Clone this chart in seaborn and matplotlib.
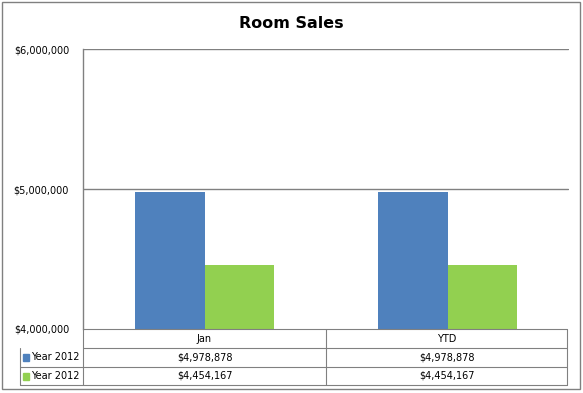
import matplotlib
matplotlib.use("Agg")
import matplotlib.pyplot as plt
import matplotlib.patches as mpatches
import pandas as pd
import seaborn as sns

# data
categories = ["Jan", "YTD"]
series_names = ["Year 2012", "Year 2012 "]
sales_2012_a = [4978878, 4978878]
sales_2012_b = [4454167, 4454167]
y_ticks = [4000000, 5000000, 6000000]
colors = ["#4F81BD", "#92D050"]

df = pd.DataFrame({
    "period": categories * 2,
    "series": [series_names[0]] * 2 + [series_names[1]] * 2,
    "sales": sales_2012_a + sales_2012_b,
})

sns.set_style("white")
plt.rcParams["font.family"] = ["DejaVu Sans"]
plt.rcParams["text.color"] = "black"
plt.rcParams["ytick.color"] = "black"

fig = plt.figure(figsize=(5.83, 3.93), dpi=100)
ax = fig.add_axes([83 / 583, 64 / 393, 486 / 583, 280 / 393])

sns.barplot(data=df, x="period", y="sales", hue="series", palette=colors,
            width=0.568, ax=ax, legend=False, saturation=1, linewidth=0)

ax.set_ylim(4000000, 6000000)
ax.set_xlim(-0.5, 1.5)
ax.set_yticks(y_ticks)
ax.set_yticklabels([f"${v:,.0f}" for v in y_ticks], fontsize=7, color="black")
ax.set_xticks([])
ax.set_xlabel("")
ax.set_ylabel("")
ax.tick_params(axis="y", length=0, pad=10)
for s in ["top", "right", "bottom"]:
    ax.spines[s].set_visible(False)
ax.spines["left"].set_color("#808080")
ax.spines["left"].set_linewidth(1)
for v in y_ticks[1:]:
    ax.axhline(v, xmin=0, xmax=485 / 486, color="#808080", lw=1, zorder=0)

fig.text(291 / 583, 1 - 24 / 393, "Room Sales", ha="center", va="center",
         fontsize=11.5, fontweight="bold", color="black")

# data table under the plot, in axes coordinates
tr = ax.transAxes
def ay(ypix):
    return (329 - ypix) / 280
def ax_(xpix):
    return (xpix - 83) / 486

line_kw = dict(color="#808080", lw=0.8, transform=tr, clip_on=False)
x_left, x_mid, x_right = ax_(20), ax_(326), ax_(567)
rows = [329, 348, 367, 385]
ax.plot([0, x_right], [ay(329)] * 2, **line_kw)
ax.plot([0, x_right], [ay(348)] * 2, **line_kw)
for yp in rows[2:]:
    ax.plot([x_left, x_right], [ay(yp)] * 2, **line_kw)
ax.plot([x_left, x_left], [ay(348), ay(385)], **line_kw)
ax.plot([0, 0], [ay(329), ay(385)], **line_kw)
ax.plot([x_mid, x_mid], [ay(329), ay(385)], **line_kw)
ax.plot([x_right, x_right], [ay(329), ay(385)], **line_kw)

cell_centers = [ax_(204.5), ax_(446.5)]
for xc, cat in zip(cell_centers, categories):
    ax.text(xc, ay(338.5), cat, transform=tr, ha="center", va="center",
            fontsize=7, color="black")
for r, vals in enumerate([sales_2012_a, sales_2012_b]):
    yc = ay(357.5 + r * 18.5)
    for xc, v in zip(cell_centers, vals):
        ax.text(xc, yc, f"${v:,.0f}", transform=tr, ha="center", va="center",
                fontsize=7, color="black")
    ax.add_patch(mpatches.Rectangle((ax_(23), yc - 3.5 / 280), 6 / 486, 7 / 280,
                                    transform=tr, color=colors[r], clip_on=False))
    ax.text(ax_(31), yc, series_names[r].strip(), transform=tr, ha="left",
            va="center", fontsize=7, color="black")

# outer chart border
fig.add_artist(mpatches.Rectangle((2 / 583, 4 / 393), 578 / 583, 387 / 393,
                                  transform=fig.transFigure, fill=False,
                                  edgecolor="#808080", lw=1))

fig.savefig("out.png", dpi=100)
